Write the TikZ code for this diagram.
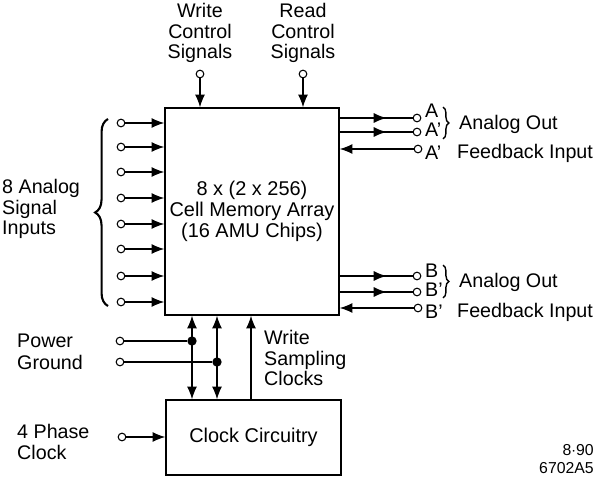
\documentclass[tikz,border=0pt]{standalone}
\usepackage{fontspec}
\setmainfont{Liberation Sans}
\usetikzlibrary{arrows.meta, positioning, calc, decorations.pathreplacing, decorations.markings}

\begin{document}
\begin{tikzpicture}[
  x=0.03cm, y=-0.03cm,
  >={Latex[length=3.8mm, width=3mm]},
  box/.style={
    draw, line width=1.3pt, minimum width=#1, inner sep=0pt,
    align=center, font=\fontsize{17}{18}\selectfont
  },
  term/.style={draw, circle, fill=white, line width=0.9pt, minimum size=2.3mm, inner sep=0pt},
  jdot/.style={circle, fill=black, minimum size=2.8mm, inner sep=0pt},
  lbl/.style={font=\fontsize{16.8}{17.2}\selectfont, inner sep=0pt, align=left},
  arr/.style={->, line width=1pt},
  midarr/.style={line width=1pt, postaction={decorate},
    decoration={markings, mark=at position 0.64 with {\arrow{>}}}},
  bigbrace/.style={decorate, decoration={brace, amplitude=#1}, line width=1.8pt},
]

\useasboundingbox (0,0) rectangle (609,479);

% =============================================
% Memory array and clock circuitry
% =============================================
\node[box=5.22cm, minimum height=6.21cm] (mem) at (252,211.5)
  {8 x (2 x 256)\\Cell Memory Array\\(16 AMU Chips)};

\node[box=5.25cm, minimum height=2.25cm] (clk) at (253.5,437.5)
  {Clock Circuitry};

% =============================================
% Control signals (top)
% =============================================
\node[term] (wctl) at (200,74) {};
\node[term] (rctl) at (303,74) {};
\node[lbl, align=center] (wctl-l) at (200,33) {Write\\Control\\Signals};
\node[lbl, align=center] (rctl-l) at (303,33) {Read\\Control\\Signals};

\draw[arr] (wctl) -- (wctl |- mem.north);
\draw[arr] (rctl) -- (rctl |- mem.north);

% =============================================
% Analog inputs (left)
% =============================================
\foreach \y [count=\i] in {123,147,172,198,224,249,276,302} {
  \node[term] (in\i) at (121,\y) {};
  \draw[arr] (in\i) -- (in\i -| mem.west);
}
\draw[bigbrace=11pt] (108,306) -- (108,119);
\node[lbl, anchor=west] (in-l) at (2,209) {8 Analog\\Signal\\Inputs};

% =============================================
% Outputs A (right)
% =============================================
\node[term] (oa) at (417,118) {};
\node[term] (oa2) at (417,132) {};
\node[term] (fa) at (418,149) {};
\draw[midarr] (oa -| mem.east) -- (oa);
\draw[midarr] (oa2 -| mem.east) -- (oa2);
\draw[arr] (fa) -- (fa -| mem.east);

\node[lbl, anchor=west] (oa-l) at (425,111) {A};
\node[lbl, anchor=west] (oa2-l) at (425,130) {A'};
\node[lbl, anchor=west] (fa-l) at (425,153) {A'};
\draw[bigbrace=5pt, line width=1.2pt] (443,107) -- (443,139);
\node[lbl, anchor=west] (oa-t) at (459,124) {Analog Out};
\node[lbl, anchor=west] (fa-t) at (457,153) {Feedback Input};

% =============================================
% Outputs B (right)
% =============================================
\node[term] (ob) at (417,276) {};
\node[term] (ob2) at (417,292) {};
\node[term] (fb) at (418,308) {};
\draw[midarr] (ob -| mem.east) -- (ob);
\draw[midarr] (ob2 -| mem.east) -- (ob2);
\draw[arr] (fb) -- (fb -| mem.east);

\node[lbl, anchor=west] (ob-l) at (425,271) {B};
\node[lbl, anchor=west] (ob2-l) at (425,290) {B'};
\node[lbl, anchor=west] (fb-l) at (425,312) {B'};
\draw[bigbrace=5pt, line width=1.2pt] (443,265) -- (443,298);
\node[lbl, anchor=west] (ob-t) at (459,282) {Analog Out};
\node[lbl, anchor=west] (fb-t) at (457,312) {Feedback Input};

% =============================================
% Power, ground and clocks (bottom)
% =============================================
\node[term] (pwr) at (120,341) {};
\node[term] (gnd) at (120,362) {};
\node[jdot] (pdot) at (192,341) {};
\node[jdot] (gdot) at (217,362) {};
\coordinate (wsc) at (251,360);

\draw[line width=1pt] (pwr) -- (pdot);
\draw[line width=1pt] (gnd) -- (gdot);
\draw[arr, <->] (pdot |- mem.south) -- (pdot |- clk.north);
\draw[arr, <->] (gdot |- mem.south) -- (gdot |- clk.north);
\draw[arr] (wsc |- clk.north) -- (wsc |- mem.south);

\node[lbl, anchor=west] (pwr-l) at (17,341) {Power};
\node[lbl, anchor=west] (gnd-l) at (17,362) {Ground};
\node[lbl, anchor=west] (wsc-l) at (264,358) {Write\\Sampling\\Clocks};

\node[term] (phi) at (122,437) {};
\draw[arr] (phi) -- (phi -| clk.west);
\node[lbl, anchor=west] (phi-l) at (17,442) {4 Phase\\Clock};

% Figure tag
\node[font=\fontsize{13.5}{15.5}\selectfont, anchor=east, align=right, inner sep=0pt]
  (tag) at (594,459) {8$\cdot$90\\6702A5};

\end{tikzpicture}
\end{document}
